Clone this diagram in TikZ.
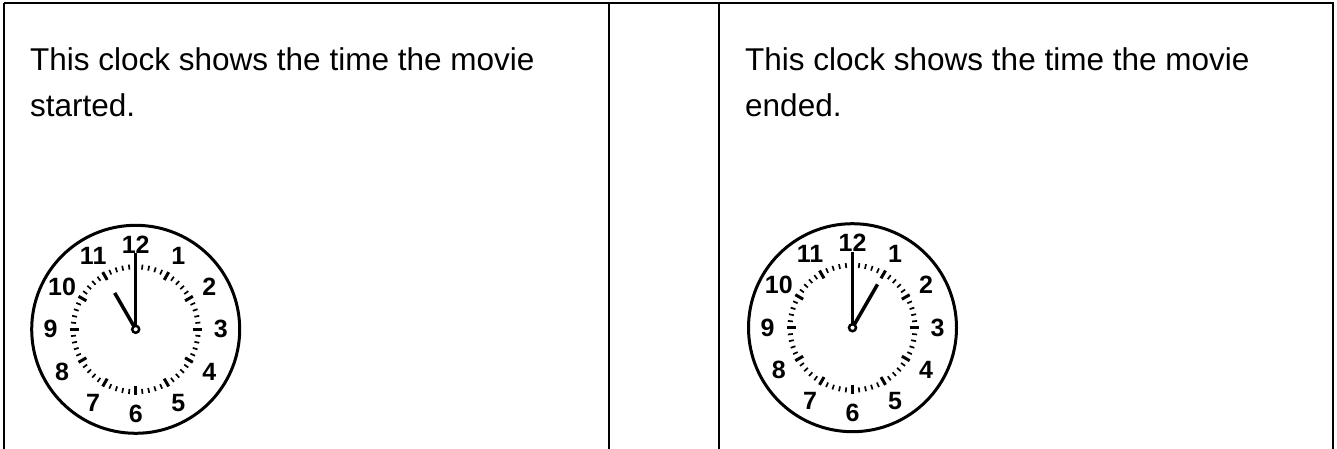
\documentclass[tikz,border=0pt]{standalone}
\usepackage{fontspec}
\setmainfont{Liberation Sans}
\begin{document}
\begin{tikzpicture}[
    x=1pt, y=1pt,
    rule/.style={line width=2pt},
    caption/.style={anchor=north west, align=left, inner sep=0pt,
      font=\fontsize{31.5}{46}\selectfont},
    numeral/.style={inner sep=0pt, font=\fontsize{25}{25}\selectfont\bfseries},
    hand/.style={line width=3.5pt},
    clockface/.pic={
      % Rim
      \draw[line width=3pt] (0,0) circle (104);
      % Minute and hour ticks
      \foreach \m in {0,...,59} {
        \pgfmathtruncatemacro\r{mod(\m,5)}
        \ifnum\r=0
          \draw[line width=3pt] ({6*\m}:57) -- ({6*\m}:66);
        \else
          \draw[line width=1.7pt] ({6*\m}:60) -- ({6*\m}:65);
        \fi
      }
      % Numerals
      \foreach \h in {1,...,12}
        \node[numeral] (n\h) at ({90-30*\h}:85) {\h};
      % Hands
      \draw[hand] (0,0) -- (90:76);
      \draw[hand] (0,0) -- (#1);
      \draw[line width=2.5pt, fill=white] (0,0) circle (3.5);
    }
  ]
  \useasboundingbox (0,0) rectangle (1337,-449);

    %------------------ Table rules ------------------%
    \draw[rule] (4,-3.5) -- (1334,-3.5);
    \draw[rule] (4,-3.5) -- (4,-449);
    \draw[rule] (609,-3.5) -- (609,-449);
    \draw[rule] (719,-3.5) -- (719,-449);
    \draw[rule] (1333,-3.5) -- (1333,-449);

    %------------------ Left cell: start -----------------%
    \begin{scope}[xshift=0pt]
      \node[caption] (startnote) at (30,-47)
        {This clock shows the time the movie\\started.};
      \pic (startclock) at (135.7,-329.3) {clockface={120:42}};
    \end{scope}

    %------------------ Right cell: end -----------------%
    \begin{scope}[xshift=715pt]
      \node[caption] (endnote) at (30,-47)
        {This clock shows the time the movie\\ended.};
      \pic (endclock) at (137.5,-327.7) {clockface={60:50}};
    \end{scope}

\end{tikzpicture}
\end{document}
